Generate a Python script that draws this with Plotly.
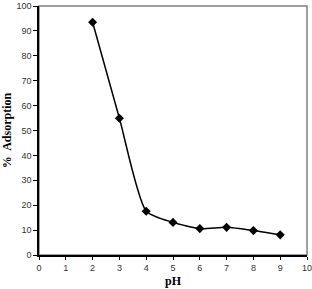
import plotly.graph_objects as go

ph = [2, 3, 4, 5, 6, 7, 8, 9]
adsorption = [93.5, 54.9, 17.6, 13.1, 10.6, 11.1, 9.8, 8.1]
x_ticks = list(range(0, 11))
y_ticks = list(range(0, 101, 10))

fig = go.Figure()
fig.add_trace(go.Scatter(
    x=ph, y=adsorption, mode="lines+markers",
    line=dict(color="black", width=1.5, shape="spline", smoothing=0.6),
    marker=dict(symbol="diamond", size=7, color="black"),
    showlegend=False,
))

fig.add_shape(type="rect", xref="paper", yref="paper", x0=0, y0=0, x1=1, y1=1,
              line=dict(color="#808080", width=1.5), layer="below")

fig.update_layout(
    width=312, height=289,
    margin=dict(l=39, r=5, t=6, b=34),
    paper_bgcolor="white", plot_bgcolor="white",
    font=dict(family="Liberation Sans, Arial", size=9, color="#333"),
)
fig.update_xaxes(
    range=[0, 10], tickvals=x_ticks, showgrid=False, zeroline=False, automargin=False,
    showline=True, linecolor="black", linewidth=1.5,
    ticks="outside", ticklen=3, tickcolor="black", ticklabeloverflow="allow",
    title=dict(text="<b>pH</b>", font=dict(family="Liberation Serif, Times New Roman", size=12, color="black"), standoff=5),
)
fig.update_yaxes(
    range=[0, 100], tickvals=y_ticks, showgrid=False, zeroline=False, automargin=False,
    showline=True, linecolor="black", linewidth=1.5,
    ticks="outside", ticklen=4, tickcolor="black", ticklabeloverflow="allow",
    title=dict(text="<b>%  Adsorption</b>", font=dict(family="Liberation Serif, Times New Roman", size=12, color="black"), standoff=6),
)
fig.write_html("out.html")
